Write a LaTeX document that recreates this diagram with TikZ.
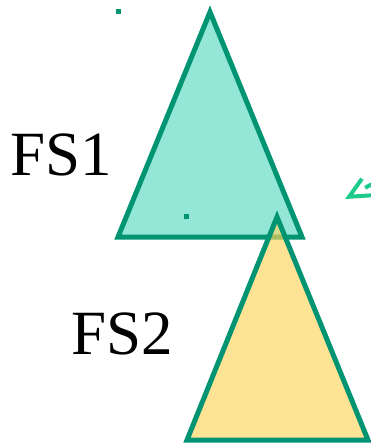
\documentclass[tikz,border=0pt]{standalone}
\usepackage{fontspec}
\setmainfont{Liberation Serif}
\usepackage{tikz}
\usetikzlibrary{arrows.meta}
\definecolor{Teal}{HTML}{009473}
\definecolor{Mint}{HTML}{94E6D6}
\definecolor{Sun}{HTML}{FFD45A}
\definecolor{Spring}{HTML}{1CCB8C}
\begin{document}
\begin{tikzpicture}[x=1pt,y=-1pt,
    tri/.style={draw=Teal,line width=5pt,line join=miter},
    dot/.style={fill=Teal,minimum size=5pt,inner sep=0pt},
    tag/.style={font=\fontsize{63}{70}\selectfont,inner sep=0pt}
  ]
    \useasboundingbox (0,0) rectangle (371,447);
    % first triangle
    \coordinate (a1) at (210,12);
    \coordinate (b1) at (118,237);
    \coordinate (c1) at (302,237);
    \draw[tri,fill=Mint] (a1) -- (b1) -- (c1) -- cycle;
    % second triangle, laid over the first
    \coordinate (a2) at (277,217);
    \coordinate (b2) at (187,440);
    \coordinate (c2) at (368,440);
    \draw[tri,fill=Sun,fill opacity=0.65] (a2) -- (b2) -- (c2) -- cycle;
    \node[tag] (fs1) at (61,155) {FS1};
    \node[tag] (fs2) at (122,334) {FS2};
    \node[dot] (d1) at (118,11) {};
    \node[dot] (d2) at (186,216) {};
    % arrow coming in from the right edge
    \coordinate (from) at (380,179.6);
    \coordinate (tip) at (345,199);
    \draw[Spring,line width=4pt,dash pattern=on 17pt off 30pt,
      -{Straight Barb[length=20pt,width=19pt]}] (from) -- (tip);
  \end{tikzpicture}
\end{document}
